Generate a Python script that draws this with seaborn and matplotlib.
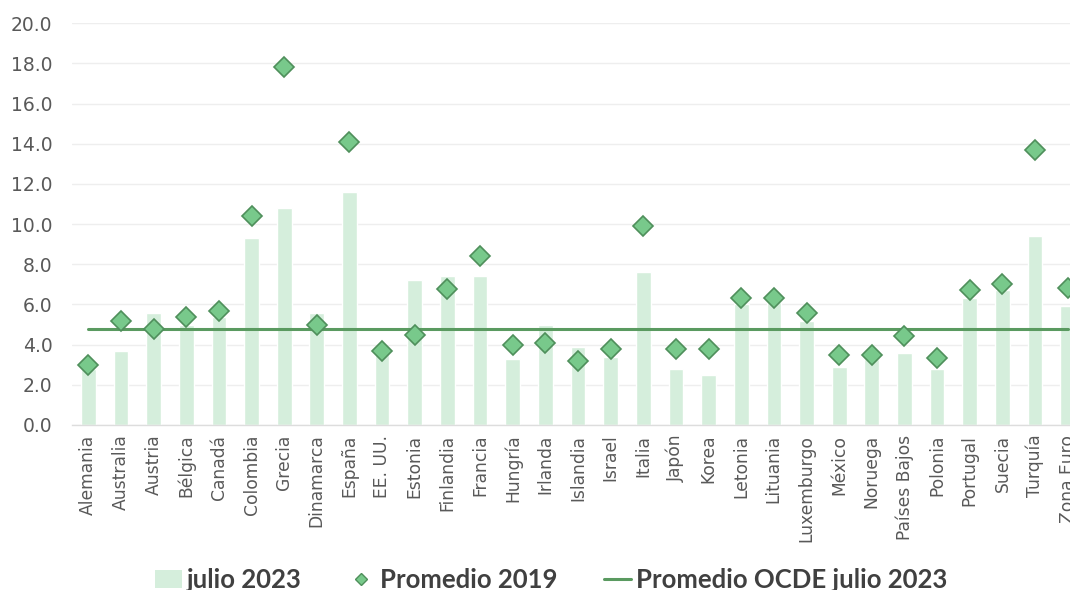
import matplotlib
matplotlib.use("Agg")
import matplotlib.pyplot as plt
import seaborn as sns
import pandas as pd
from matplotlib.lines import Line2D
from matplotlib.patches import Patch

paises = ["Alemania", "Australia", "Austria", "Bélgica", "Canadá", "Colombia", "Grecia",
          "Dinamarca", "España", "EE. UU.", "Estonia", "Finlandia", "Francia", "Hungría",
          "Irlanda", "Islandia", "Israel", "Italia", "Japón", "Korea", "Letonia", "Lituania",
          "Luxemburgo", "México", "Noruega", "Países Bajos", "Polonia", "Portugal", "Suecia",
          "Turquía", "Zona Euro"]
julio_2023 = [2.8, 3.7, 5.6, 5.0, 5.4, 9.3, 10.8, 5.6, 11.6, 3.6, 7.2, 7.4, 7.4, 3.3,
              5.0, 3.9, 3.4, 7.6, 2.8, 2.5, 6.0, 6.1, 5.2, 2.9, 3.3, 3.6, 2.8, 6.3, 6.7,
              9.4, 5.9]
promedio_2019 = [3.0, 5.2, 4.8, 5.4, 5.7, 10.4, 17.8, 5.0, 14.1, 3.7, 4.5, 6.75, 8.4, 4.0,
                 4.1, 3.2, 3.8, 9.9, 3.8, 3.8, 6.3, 6.3, 5.6, 3.5, 3.5, 4.45, 3.35, 6.7, 7.0,
                 13.7, 6.8]
promedio_ocde = 4.8
yticks = [0, 2, 4, 6, 8, 10, 12, 14, 16, 18, 20]

df = pd.DataFrame({"pais": paises, "julio": julio_2023, "p2019": promedio_2019,
                   "ocde": [promedio_ocde] * len(paises)})

bar_color = "#d5eedc"
dia_face = "#78c98b"
dia_edge = "#4f8f5b"
line_color = "#5a9a60"
text_color = "#595959"

sns.set_theme(style="white")
plt.rcParams["font.family"] = ["DejaVu Sans"]

fig = plt.figure(figsize=(10.7, 5.9), dpi=100)
ax = fig.add_axes([72 / 1070, 1 - 425 / 590, (1084 - 72) / 1070, (425 - 23.3) / 590])

sns.barplot(data=df, x="pais", y="julio", color=bar_color, width=0.45, saturation=1,
            ax=ax, zorder=2)
sns.pointplot(data=df, x="pais", y="ocde", color=line_color, markers="none",
              linestyles="-", errorbar=None, ax=ax, zorder=3)
sns.pointplot(data=df, x="pais", y="p2019", color=dia_face, markers="D",
              linestyles="none", errorbar=None, ax=ax, zorder=4)

for ln in ax.lines:
    if ln.get_marker() == "D":
        ln.set_markersize(10.5)
        ln.set_markerfacecolor(dia_face)
        ln.set_markeredgecolor(dia_edge)
        ln.set_markeredgewidth(1.2)
    else:
        ln.set_linewidth(2.2)

ax.set_ylim(0, 20)
ax.set_xlim(-0.5, len(paises) - 0.5)
ax.set_yticks(yticks)
ax.set_yticklabels([f"{v:.1f}" for v in yticks], fontsize=13.5, color=text_color)
ax.set_xticks(range(len(paises)))
ax.set_xticklabels(paises, rotation=90, fontsize=12.3, color=text_color)
ax.tick_params(axis="y", length=0, pad=14)
ax.tick_params(axis="x", length=0, pad=7)
ax.set_xlabel("")
ax.set_ylabel("")
ax.grid(axis="y", color="#eeeeee", linewidth=1, zorder=0)
ax.set_axisbelow(True)
for s in ["top", "right", "left"]:
    ax.spines[s].set_visible(False)
ax.spines["bottom"].set_color("#dddddd")
ax.spines["bottom"].set_linewidth(1)

handles = [
    Patch(facecolor=bar_color, edgecolor="none"),
    Line2D([], [], marker="D", linestyle="none", markersize=6.5, markerfacecolor=dia_face,
           markeredgecolor=dia_edge, markeredgewidth=1),
    Line2D([], [], color=line_color, linewidth=2.2),
]
labels = ["julio 2023", "Promedio 2019", "Promedio OCDE julio 2023"]
fig.legend(handles, labels, loc="center", bbox_to_anchor=(0.515, 0.017), ncol=3,
           frameon=False,
           prop={"family": "Lato", "weight": "bold", "size": 18.5},
           labelcolor="#404040", handlelength=1.05, handletextpad=0.2, columnspacing=1.8)

fig.savefig("out.png", dpi=100)
